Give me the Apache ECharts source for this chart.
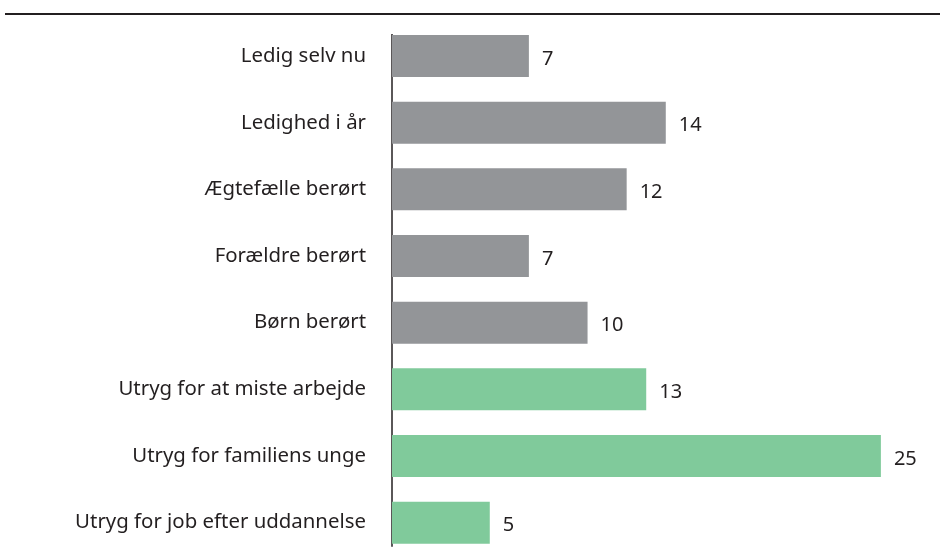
<!DOCTYPE html>
<html>
<head>
<meta charset="utf-8">
<script src="https://cdn.jsdelivr.net/npm/echarts@6/dist/echarts.min.js"></script>
<style>
  html, body { margin: 0; padding: 0; background: #ffffff; }
  #chart { width: 940px; height: 556px; }
</style>
</head>
<body>
<div id="chart"></div>
<script>
// Categories, top to bottom
const categories = [
  'Ledig selv nu',
  'Ledighed i år',
  'Ægtefælle berørt',
  'Forældre berørt',
  'Børn berørt',
  'Utryg for at miste arbejde',
  'Utryg for familiens unge',
  'Utryg for job efter uddannelse'
];
// Values per category
const values = [7, 14, 12, 7, 10, 13, 25, 5];
// Group of each category: 'berørt' (gray) or 'utryg' (green)
const groups = ['berørt', 'berørt', 'berørt', 'berørt', 'berørt', 'utryg', 'utryg', 'utryg'];

const groupColors = { 'berørt': '#939598', 'utryg': '#80ca9b' };
const textColor = '#231f20';
const fontFamily = '"Noto Sans", "Open Sans", sans-serif';

const chart = echarts.init(document.getElementById('chart'), null, { renderer: 'canvas' });

const option = {
  animation: false,
  grid: { left: 392, right: 20, top: 22.7, bottom: 0, containLabel: false },
  xAxis: {
    type: 'value',
    min: 0,
    max: 27,
    show: false
  },
  yAxis: {
    type: 'category',
    inverse: true,
    data: categories,
    axisLine: { show: false },
    axisTick: { show: false },
    axisLabel: {
      margin: 26,
      color: textColor,
      fontSize: 20.4,
      fontFamily: fontFamily
    }
  },
  series: [{
    type: 'bar',
    barWidth: 42,
    data: values.map((v, i) => ({ value: v, itemStyle: { color: groupColors[groups[i]] } })),
    label: {
      show: true,
      position: 'right',
      distance: 13,
      color: textColor,
      fontSize: 20,
      fontFamily: fontFamily,
      offset: [0, 3]
    }
  }]
};

chart.setOption(option);

// Rule across the top and the baseline for the bars
const first = chart.convertToPixel({ xAxisIndex: 0, yAxisIndex: 0 }, [0, 0]);
const last = chart.convertToPixel({ xAxisIndex: 0, yAxisIndex: 0 }, [0, categories.length - 1]);
chart.setOption({
  graphic: [
    {
      type: 'line',
      shape: { x1: 5, y1: 14, x2: 940, y2: 14 },
      style: { stroke: textColor, lineWidth: 2 }
    },
    {
      type: 'line',
      shape: { x1: first[0], y1: first[1] - 22, x2: last[0], y2: last[1] + 24 },
      style: { stroke: textColor, lineWidth: 1.5 }
    }
  ]
});
</script>
</body>
</html>
